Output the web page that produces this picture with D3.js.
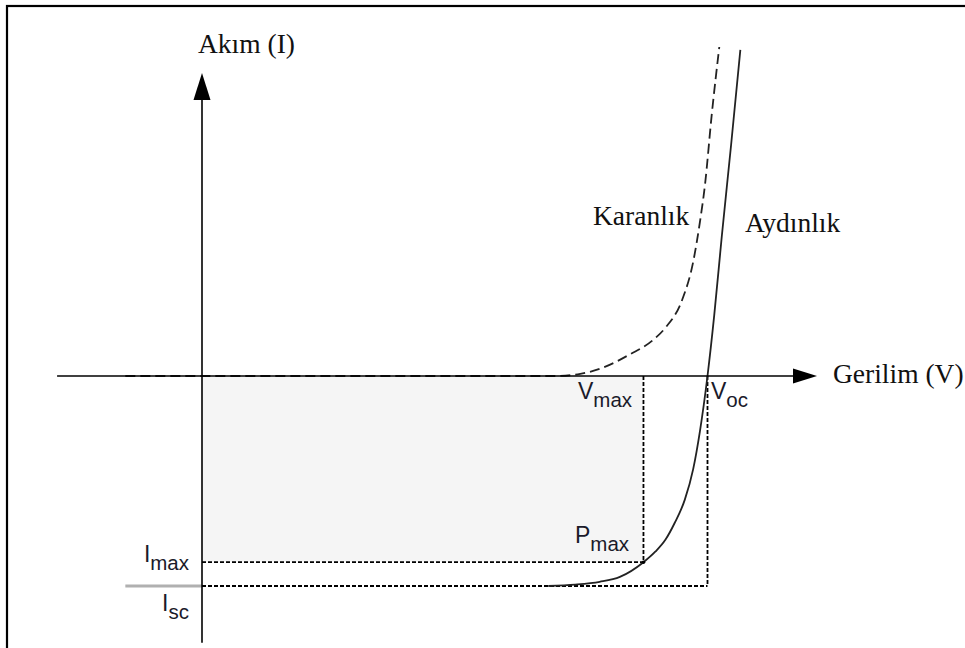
<!DOCTYPE html>
<html>
<head>
<meta charset="utf-8">
<script src="https://cdn.jsdelivr.net/npm/d3@7"></script>
<style>
  html, body { margin: 0; padding: 0; background: #fff; }
  svg { display: block; }
</style>
</head>
<body>
<svg id="chart" width="965" height="648"></svg>
<script>
// Solar cell I–V characteristic: dark and illuminated curves
const Voc = 0.600;   // open-circuit voltage
const Vmax = 0.524;  // voltage at maximum power point
const Isc = -3.00;   // short-circuit current
const Imax = -2.66;  // current at maximum power point

// Illuminated ("Aydınlık") curve
const lightV = [0.411, 0.443, 0.472, 0.496, 0.524, 0.538, 0.550, 0.561, 0.573, 0.583, 0.591, 0.600, 0.608, 0.617, 0.628, 0.639];
const lightI = [-3.00, -2.98, -2.94, -2.87, -2.66, -2.51, -2.34, -2.10, -1.77, -1.33, -0.79, 0.00, 0.87, 2.00, 3.30, 4.66];
// Part of the illuminated curve left of the current axis
const lightLeftV = [-0.091, 0.0];

// Dark ("Karanlık") curve
const darkV = [-0.091, 0.419, 0.449, 0.476, 0.508, 0.535, 0.550, 0.570, 0.583, 0.591, 0.597, 0.605, 0.614];
const darkI = [0.00, 0.00, 0.03, 0.12, 0.31, 0.51, 0.69, 1.09, 1.63, 2.20, 2.73, 3.73, 4.70];

// Axis extents
const axisV = [-0.172, 0.730];
const axisI = [-3.81, 4.33];

const svg = d3.select("#chart");

const x = d3.scaleLinear().domain([0, Voc]).range([202, 707.5]);
const y = d3.scaleLinear().domain([0, Isc]).range([376, 586]);

// Outer frame
svg.append("rect")
  .attr("x", 7).attr("y", 6)
  .attr("width", 1000).attr("height", 1000)
  .attr("fill", "none").attr("stroke", "#000").attr("stroke-width", 2.2);

// Power rectangle Vmax × Imax
svg.append("rect")
  .attr("x", x(0)).attr("y", y(0))
  .attr("width", x(Vmax) - x(0))
  .attr("height", y(Imax) - y(0))
  .attr("fill", "#f5f5f5");

// Reference dashed lines
const refs = [
  [[Vmax, 0], [Vmax, Imax]],
  [[Voc, 0], [Voc, Isc]],
  [[0, Imax], [Vmax, Imax]],
  [[0, Isc], [Voc, Isc]]
];
svg.selectAll("line.ref").data(refs).join("line")
  .attr("class", "ref")
  .attr("x1", d => x(d[0][0])).attr("y1", d => y(d[0][1]))
  .attr("x2", d => x(d[1][0])).attr("y2", d => y(d[1][1]))
  .attr("stroke", "#000").attr("stroke-width", 1.8)
  .attr("stroke-dasharray", "4,2");

// Gray short-circuit segment on the negative voltage side
svg.append("line")
  .attr("x1", x(lightLeftV[0])).attr("y1", y(Isc))
  .attr("x2", x(lightLeftV[1])).attr("y2", y(Isc))
  .attr("stroke", "#b0b0b0").attr("stroke-width", 3);

const line = d3.line()
  .x(d => x(d[0])).y(d => y(d[1]))
  .curve(d3.curveMonotoneX);

// Illuminated curve
svg.append("path")
  .datum(d3.zip(lightV, lightI))
  .attr("d", line)
  .attr("fill", "none").attr("stroke", "#222").attr("stroke-width", 1.8);

// Dark curve
svg.append("path")
  .datum(d3.zip(darkV, darkI))
  .attr("d", line)
  .attr("fill", "none").attr("stroke", "#222").attr("stroke-width", 1.8)
  .attr("stroke-dasharray", "10,5");

// Maximum power point
svg.append("circle")
  .attr("cx", x(Vmax)).attr("cy", y(Imax)).attr("r", 1.8).attr("fill", "#000");

// Axes with arrow heads
svg.append("line")
  .attr("x1", x(axisV[0])).attr("y1", y(0))
  .attr("x2", x(axisV[1]) - 10).attr("y2", y(0))
  .attr("stroke", "#000").attr("stroke-width", 1.6);
svg.append("line")
  .attr("x1", x(0)).attr("y1", y(axisI[0]))
  .attr("x2", x(0)).attr("y2", y(axisI[1]) + 10)
  .attr("stroke", "#000").attr("stroke-width", 1.6);

const tipX = x(axisV[1]), tipY = y(axisI[1]);
svg.append("path")
  .attr("d", `M${tipX},${y(0)} L${tipX - 24},${y(0) - 7.5} L${tipX - 24},${y(0) + 7.5} Z`)
  .attr("fill", "#000");
svg.append("path")
  .attr("d", `M${x(0)},${tipY} L${x(0) - 8.5},${tipY + 27} L${x(0) + 8.5},${tipY + 27} Z`)
  .attr("fill", "#000");

// Axis titles and curve names (serif)
const serif = "'Liberation Serif', 'Times New Roman', serif";
const serifLabels = [
  { t: "Akım (I)", x: 198, y: 53 },
  { t: "Gerilim (V)", x: 833, y: 383 },
  { t: "Karanlık", x: 593, y: 225 },
  { t: "Aydınlık", x: 745, y: 232 }
];
svg.selectAll("text.serif").data(serifLabels).join("text")
  .attr("class", "serif")
  .attr("x", d => d.x).attr("y", d => d.y)
  .attr("font-family", serif).attr("font-size", 27.5)
  .attr("fill", "#111")
  .text(d => d.t);

// Point labels with subscripts (sans)
const sans = "'Liberation Sans', Arial, sans-serif";
const subLabels = [
  { main: "V", sub: "max", x: 578, y: 399, anchor: "start" },
  { main: "V", sub: "oc", x: 711, y: 399, anchor: "start" },
  { main: "P", sub: "max", x: 575, y: 543, anchor: "start" },
  { main: "I", sub: "max", x: 189, y: 562, anchor: "end" },
  { main: "I", sub: "sc", x: 189, y: 611, anchor: "end" }
];
const st = svg.selectAll("text.sub").data(subLabels).join("text")
  .attr("class", "sub")
  .attr("x", d => d.x).attr("y", d => d.y)
  .attr("text-anchor", d => d.anchor)
  .attr("font-family", sans).attr("fill", "#1a1a2a");
st.append("tspan").attr("font-size", 23).text(d => d.main);
st.append("tspan").attr("font-size", 20.5).attr("dy", 8).text(d => d.sub);
</script>
</body>
</html>
